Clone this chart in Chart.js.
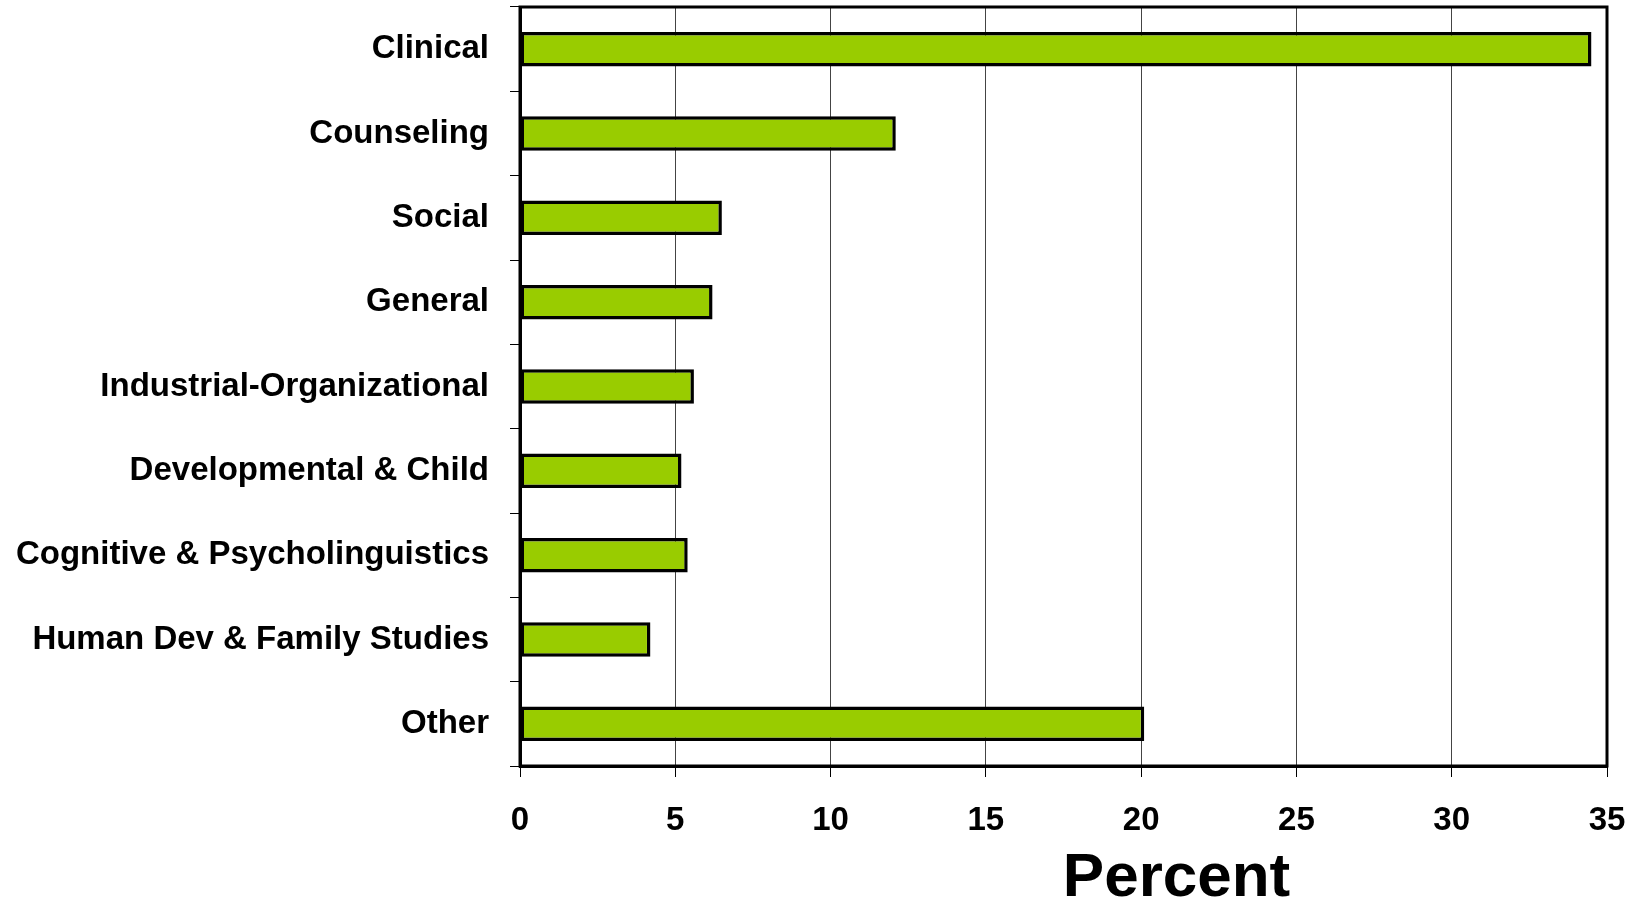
<!DOCTYPE html>
<html>
<head>
<meta charset="utf-8">
<script src="https://cdn.jsdelivr.net/npm/chart.js@4"></script>
<style>
    body { margin: 0; background: #fff; }
    #wrap { width: 1642px; height: 902px; }
</style>
</head>
<body>
<div id="wrap"><canvas id="barChart" width="1642" height="902"></canvas></div>
<script>
// Dữ liệu biểu đồ
const categories = [
    'Clinical',
    'Counseling',
    'Social',
    'General',
    'Industrial-Organizational',
    'Developmental & Child',
    'Cognitive & Psycholinguistics',
    'Human Dev & Family Studies',
    'Other'
];
const percentValues = [34.5, 12.1, 6.5, 6.2, 5.6, 5.2, 5.4, 4.2, 20.1];
const xTicks = [0, 5, 10, 15, 20, 25, 30, 35];
const axisTitle = 'Percent';

const FONT = "'Liberation Sans', Arial, sans-serif";

// Vẽ khung viền quanh vùng biểu đồ + tiêu đề trục X
const framePlugin = {
    id: 'frame',
    afterDraw(chart) {
        const { ctx, chartArea } = chart;
        ctx.save();
        ctx.strokeStyle = '#000';
        ctx.lineWidth = 3;
        ctx.strokeRect(chartArea.left, chartArea.top,
            chartArea.right - chartArea.left, chartArea.bottom - chartArea.top);

        // tiêu đề "Percent" lệch phải như ảnh gốc
        ctx.fillStyle = '#000';
        ctx.font = 'bold 62px ' + FONT;
        ctx.textAlign = 'center';
        ctx.textBaseline = 'alphabetic';
        const cx = chartArea.left + (chartArea.right - chartArea.left) * 0.604;
        ctx.fillText(axisTitle, cx, 896);
        ctx.restore();
    }
};

document.addEventListener('DOMContentLoaded', function() {
    const ctx = document.getElementById('barChart').getContext('2d');
    new Chart(ctx, {
        type: 'bar',
        data: {
            labels: categories,
            datasets: [{
                data: percentValues,
                backgroundColor: '#99CC00',
                borderColor: '#000',
                borderWidth: 3.5,
                borderSkipped: false,
                barPercentage: 0.41,
                categoryPercentage: 1
            }]
        },
        options: {
            indexAxis: 'y',
            responsive: false,
            animation: false,
            layout: {
                padding: { top: 7, right: 35, bottom: 0, left: 0 }
            },
            plugins: {
                legend: { display: false },
                tooltip: { enabled: false }
            },
            scales: {
                x: {
                    min: 0,
                    max: 35,
                    afterBuildTicks(scale) {
                        scale.ticks = xTicks.map(v => ({ value: v }));
                    },
                    afterFit(scale) {
                        scale.height = 136;
                        scale.paddingLeft = 0;
                        scale.paddingRight = 0;
                    },
                    grid: {
                        color: '#444',
                        lineWidth: 1,
                        tickColor: '#000',
                        tickLength: 11
                    },
                    border: { color: '#000', width: 3 },
                    ticks: {
                        color: '#000',
                        padding: 24,
                        maxRotation: 0,
                        font: { family: FONT, size: 33, weight: 'bold' }
                    }
                },
                y: {
                    afterFit(scale) {
                        scale.width = 520;
                        scale.paddingTop = 0;
                        scale.paddingBottom = 0;
                    },
                    grid: {
                        drawOnChartArea: false,
                        offset: true,
                        tickColor: '#000',
                        tickLength: 10,
                        lineWidth: 1
                    },
                    border: { color: '#000', width: 3 },
                    ticks: {
                        color: '#000',
                        padding: 21,
                        font: { family: FONT, size: 33, weight: 'bold' }
                    }
                }
            }
        },
        plugins: [framePlugin]
    });
});
</script>
</body>
</html>
